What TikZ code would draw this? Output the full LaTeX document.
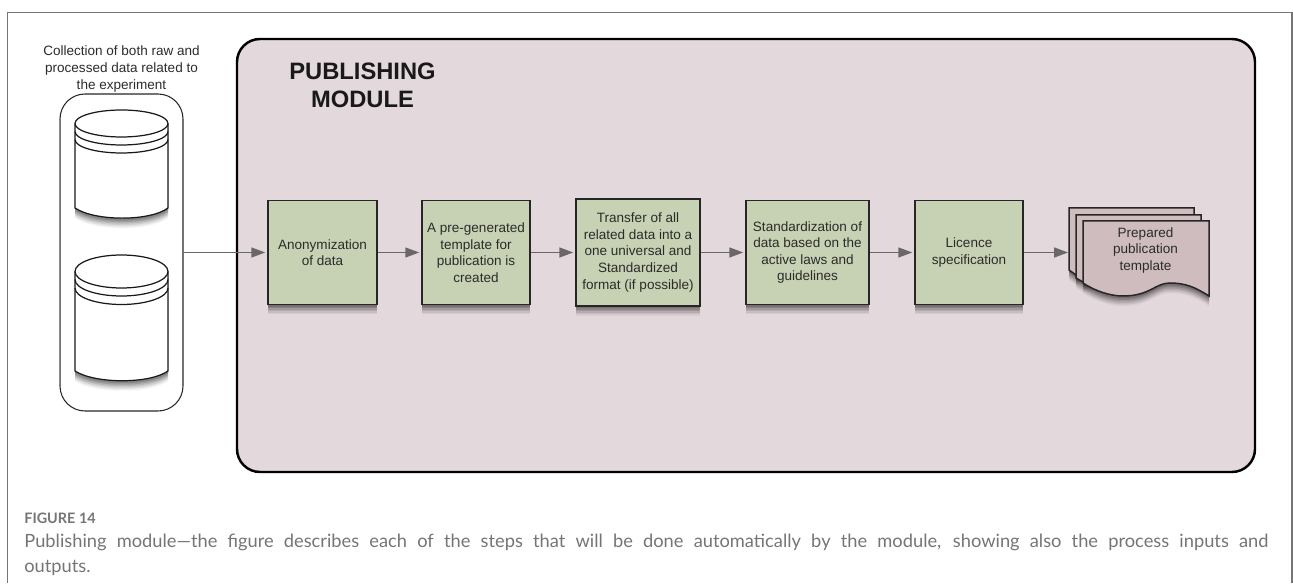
\documentclass[tikz,border=0pt]{standalone}
\usepackage{fontspec}
\setmainfont{Liberation Sans}
\newfontfamily\captionfont{Lato}
\usetikzlibrary{shadows,arrows.meta}
\definecolor{modulefill}{HTML}{E3D8DB}
\definecolor{stepfill}{HTML}{C7D1B3}
\definecolor{docfill}{HTML}{CFBCBF}
\definecolor{linkgray}{HTML}{6B6767}
\definecolor{inkgray}{HTML}{2B2B2B}
\definecolor{capgray}{HTML}{757575}
\tikzset{
	softshadow/.style={
		drop shadow={shadow xshift=0cm,shadow yshift=-0.2cm,opacity=0.05,fill=black},
		drop shadow={shadow xshift=0cm,shadow yshift=-0.17cm,opacity=0.07,fill=black},
		drop shadow={shadow xshift=0cm,shadow yshift=-0.14cm,opacity=0.09,fill=black},
		drop shadow={shadow xshift=0cm,shadow yshift=-0.11cm,opacity=0.11,fill=black},
		drop shadow={shadow xshift=0cm,shadow yshift=-0.08cm,opacity=0.13,fill=black},
		drop shadow={shadow xshift=0cm,shadow yshift=-0.05cm,opacity=0.15,fill=black}},
	stepbox/.style={draw=black!85,line width=0.85pt,fill=stepfill,softshadow,align=center,text=inkgray,font=\fontsize{7.7pt}{9.4pt}\selectfont,inner sep=0pt},
	link/.style={draw=linkgray,line width=0.85pt,shorten >=0.04cm,-{Triangle[length=0.28cm,width=0.2cm]}},
	docsheet/.style={draw=black!85,line width=0.85pt,fill=docfill},
	storeline/.style={black!90,line width=0.7pt}
}
\begin{document}
\begin{tikzpicture}
	\useasboundingbox(0,0)rectangle(25.86,11.66);
	% page frame
	\draw[capgray,line width=0.6pt](0.15,0)--(0.15,11.41)--(25.84,11.41)--(25.84,0);
	% publishing module
	\node[draw=black,line width=1.4pt,fill=modulefill,rounded corners=0.46cm,minimum width=20.36cm,minimum height=8.66cm,inner sep=0pt](module) at (14.92,6.55){};
	\node[align=center,anchor=north west,inner sep=0pt,font=\fontsize{13.5pt}{16.1pt}\selectfont\bfseries,text=black!90](moduletitle) at (5.78,10.41){PUBLISHING\\MODULE};
	% data collection
	\node[align=center,font=\fontsize{7.7pt}{9.4pt}\selectfont,text=inkgray,inner sep=0pt](datatitle) at (2.43,10.28){Collection of both raw and\\processed data related to\\the experiment};
	\node[draw=black!85,line width=0.6pt,rounded corners=0.5cm,minimum width=2.46cm,minimum height=6.34cm,inner sep=0pt](collection) at (2.43,6.61){};
	\draw[black!45,line width=1pt](1.19,9.3)--(1.19,3.96);
	% upper store
	\draw[storeline,fill=white,softshadow](1.5,9.19)--(1.5,7.5)..controls(1.9,7.23)and(3,7.23)..(3.36,7.5)--(3.36,9.19)arc(0:180:0.93 and 0.27)--cycle;
	\draw[storeline](1.5,9.19)arc(180:360:0.93 and 0.27);
	\draw[storeline](1.5,9.03)arc(180:360:0.93 and 0.27);
	\draw[storeline](1.5,8.87)arc(180:360:0.93 and 0.27);
	% lower store
	\draw[storeline,fill=white,softshadow](1.5,6.23)--(1.5,4.24)..controls(1.9,3.98)and(3,3.98)..(3.36,4.24)--(3.36,6.23)arc(0:180:0.93 and 0.33)--cycle;
	\draw[storeline](1.5,6.23)arc(180:360:0.93 and 0.33);
	\draw[storeline](1.5,6.07)arc(180:360:0.93 and 0.33);
	\draw[storeline](1.5,5.9)arc(180:360:0.93 and 0.33);
	% steps
	\node[stepbox,minimum width=2.18cm,minimum height=2.08cm](anon) at (6.45,6.61){Anonymization\\of data};
	\node[stepbox,minimum width=2.16cm,minimum height=2.08cm](template) at (9.52,6.61){A pre-generated\\template for\\publication is\\created};
	\node[stepbox,minimum width=2.48cm,minimum height=2.14cm](transfer) at (12.76,6.61){Transfer of all\\related data into a\\one universal and\\Standardized\\format (if possible)};
	\node[stepbox,minimum width=2.46cm,minimum height=2.08cm](laws) at (16.15,6.61){Standardization of\\data based on the\\active laws and\\guidelines};
	\node[stepbox,minimum width=2.16cm,minimum height=2.08cm](licence) at (19.38,6.61){Licence\\specification};
	% output pages
	\draw[docsheet,softshadow](21.38,7.5)--(23.88,7.5)--(23.88,6.5)--(21.52,6.16)--(21.38,6.26)--cycle;
	\draw[docsheet,softshadow](21.52,7.36)--(24.02,7.36)--(24.02,6.4)--(21.66,6.02)--(21.52,6.1)--cycle;
	\draw[docsheet,softshadow](21.66,7.24)--(24.18,7.24)--(24.18,5.74)..controls(23.9,5.92)and(23.7,6)..(23.4,6)..controls(23.1,6)and(23,5.74)..(22.46,5.74)..controls(22.2,5.74)and(21.9,5.84)..(21.66,6)--cycle;
	\node[align=center,font=\fontsize{7.7pt}{9.4pt}\selectfont,text=inkgray,inner sep=0pt](prepared) at (22.91,6.65){Prepared\\publication\\template};
	\coordinate(docin) at (21.4,6.61);
	% connectors
	\draw[link](collection.east|-anon)--(anon);
	\draw[link](anon)--(template);
	\draw[link](template)--(transfer);
	\draw[link](transfer)--(laws);
	\draw[link](laws)--(licence);
	\draw[link](licence)--(docin);
	% caption
	\node[anchor=west,inner sep=0pt,font=\captionfont\fontsize{8.2pt}{10pt}\selectfont\bfseries,text=capgray](figlabel) at (0.48,1.3){FIGURE 14};
	\node[anchor=north west,inner sep=0pt,text width=24.88cm,align=justify,font=\captionfont\fontsize{10.4pt}{13.8pt}\selectfont,text=capgray](figcaption) at (0.48,0.98){Publishing module—the figure describes each of the steps that will be done automatically by the module, showing also the process inputs and\linebreak outputs.};
\end{tikzpicture}
\end{document}
